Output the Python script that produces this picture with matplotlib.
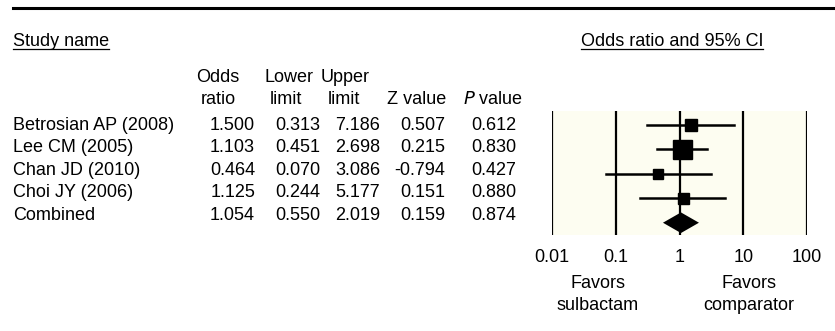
import numpy as np
import matplotlib
matplotlib.use('Agg')
import matplotlib.pyplot as plt
from matplotlib.lines import Line2D

# 데이터
studies = ['Betrosian AP (2008)', 'Lee CM (2005)', 'Chan JD (2010)', 'Choi JY (2006)', 'Combined']
odds = [1.500, 1.103, 0.464, 1.125, 1.054]
lower = [0.313, 0.451, 0.070, 0.244, 0.550]
upper = [7.186, 2.698, 3.086, 5.177, 2.019]
z_val = [0.507, 0.215, -0.794, 0.151, 0.159]
p_val = [0.612, 0.830, 0.427, 0.880, 0.874]
x_ticks = [0.01, 0.1, 1, 10, 100]
x_ticklabels = ['0.01', '0.1', '1', '10', '100']

plt.rcParams['font.family'] = ['Liberation Sans', 'DejaVu Sans']
FS = 13
W, H = 835, 331

fig = plt.figure(figsize=(W / 100, H / 100), dpi=100)


def px(x, y):
    return x / W, 1 - y / H


# 맨 위 굵은 선
fig.add_artist(Line2D([13 / W, 1], [1 - 8 / H, 1 - 8 / H], color='black', lw=2.2,
                      transform=fig.transFigure))

# 제목 (밑줄)
t1 = fig.text(*px(13, 46), 'Study name', fontsize=FS, va='baseline', ha='left')
t2 = fig.text(*px(672, 46), 'Odds ratio and 95% CI', fontsize=FS, va='baseline', ha='center')

# 열 머리글
fig.text(*px(218, 78), 'Odds', fontsize=FS, ha='center', va='center')
fig.text(*px(218, 100), 'ratio', fontsize=FS, ha='center', va='center')
fig.text(*px(289, 78), 'Lower', fontsize=FS, ha='center', va='center')
fig.text(*px(286, 100), 'limit', fontsize=FS, ha='center', va='center')
fig.text(*px(345, 78), 'Upper', fontsize=FS, ha='center', va='center')
fig.text(*px(344, 100), 'limit', fontsize=FS, ha='center', va='center')
fig.text(*px(417, 100), 'Z value', fontsize=FS, ha='center', va='center')
fig.text(*px(493, 100), r'$\it{P}$' + ' value', fontsize=FS, ha='center', va='center')

# 표 본문
col_right = [255, 320, 380, 445, 516]
for i, name in enumerate(studies):
    y = 125 + i * 22.6
    fig.text(*px(13, y), name, fontsize=FS, ha='left', va='center')
    vals = [odds[i], lower[i], upper[i], z_val[i], p_val[i]]
    for xr, v in zip(col_right, vals):
        fig.text(*px(xr, y), '{:.3f}'.format(v), fontsize=FS, ha='right', va='center')

# 포레스트 플롯
ax = fig.add_axes([552 / W, 1 - 235 / H, (807 - 552) / W, 124 / H])
ax.set_facecolor('#fdfdf1')
ax.set_xscale('log')
ax.set_xlim(0.01, 100)
ax.set_ylim(4.5, -0.55)
for s in ax.spines.values():
    s.set_visible(False)
for xv in x_ticks:
    ax.axvline(xv, color='black', lw=1.6, zorder=1)

square_px = [12, 19, 10, 11]
for i in range(4):
    ax.plot([lower[i], upper[i]], [i, i], color='black', lw=1.8, zorder=2)
    ax.plot(odds[i], i, marker='s', color='black', ms=square_px[i] * 0.72, zorder=3)

# 결합 다이아몬드
k = 4
ax.fill([lower[k], odds[k], upper[k], odds[k]], [k, k - 0.42, k, k + 0.42],
        color='black', zorder=3, lw=0)

ax.set_yticks([])
ax.set_xticks(x_ticks)
ax.set_xticklabels(x_ticklabels, fontsize=FS)
ax.minorticks_off()
ax.tick_params(axis='x', length=0, pad=10)

fig.text(*px(598, 283), 'Favors', fontsize=FS, ha='center', va='center')
fig.text(*px(598, 306), 'sulbactam', fontsize=FS, ha='center', va='center')
fig.text(*px(749, 283), 'Favors', fontsize=FS, ha='center', va='center')
fig.text(*px(749, 306), 'comparator', fontsize=FS, ha='center', va='center')

# 밑줄 그리기
fig.canvas.draw()
r = fig.canvas.get_renderer()
for t in [t1, t2]:
    bb = t.get_window_extent(r)
    yl = 1 - 48.5 / H
    fig.add_artist(Line2D([bb.x0 / W, bb.x1 / W], [yl, yl], color='black', lw=0.9,
                          transform=fig.transFigure))

fig.savefig('out.png', dpi=100)
